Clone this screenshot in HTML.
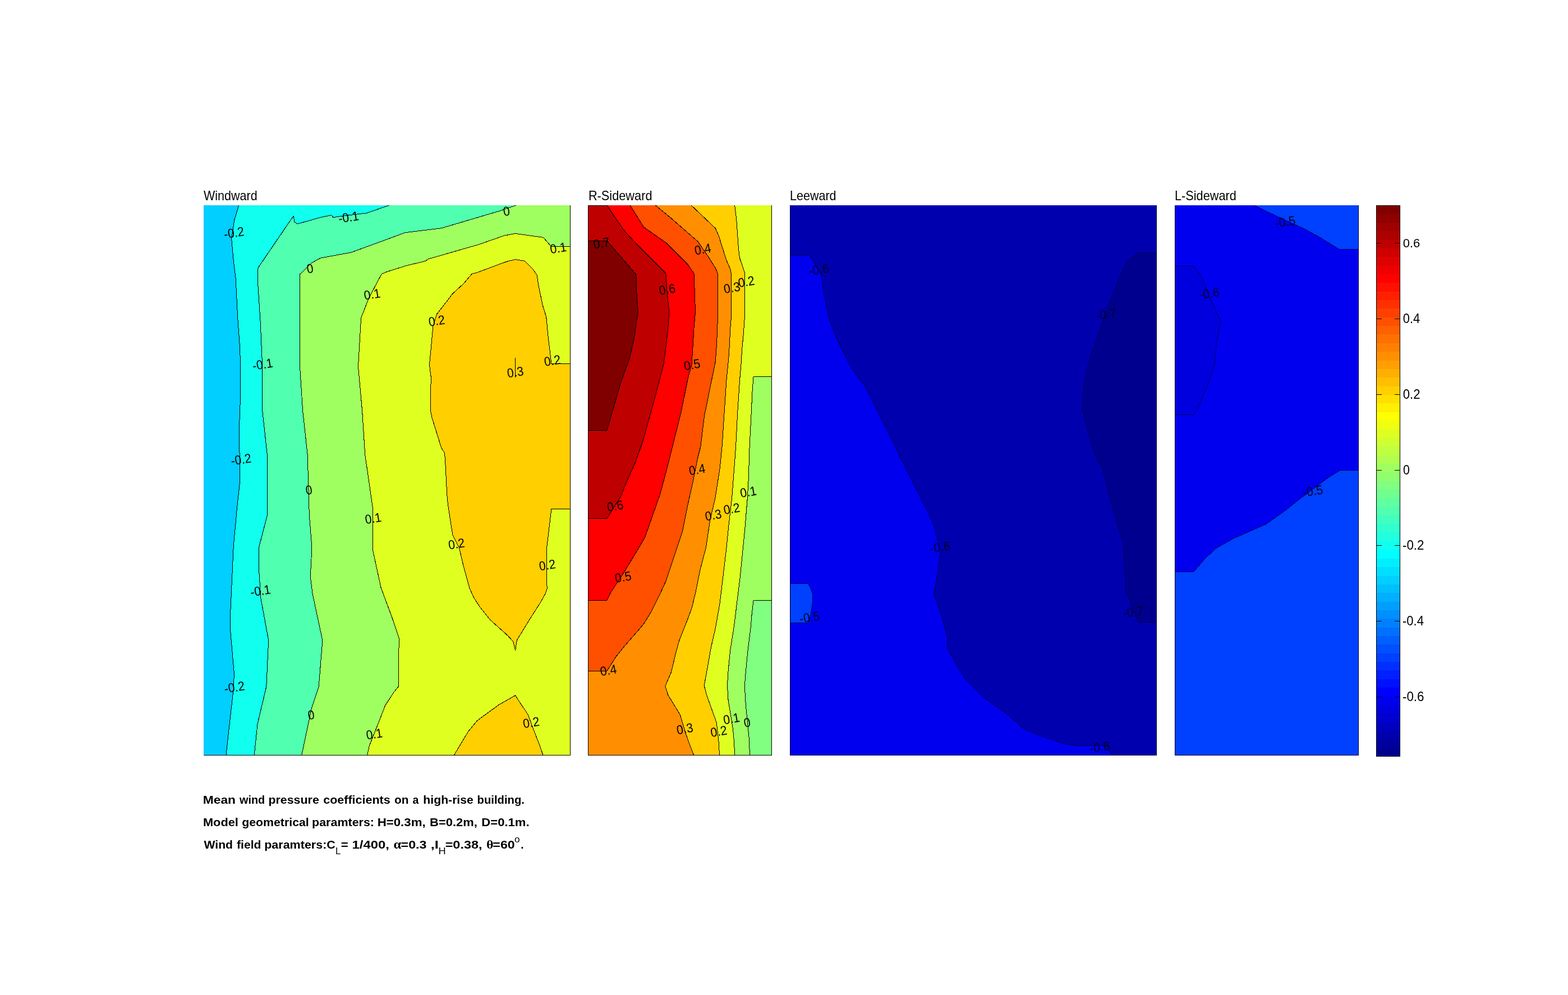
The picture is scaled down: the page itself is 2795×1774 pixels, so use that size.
<!DOCTYPE html>
<html><head><meta charset="utf-8"><title>Mean wind pressure coefficients</title>
<style>
html,body{margin:0;padding:0;background:#fff;}
body{width:2795px;height:1774px;overflow:hidden;}
svg{display:block;}
text{font-family:'Liberation Sans', sans-serif;fill:#000;}
.s{shape-rendering:crispEdges;}
.l{shape-rendering:crispEdges;fill:none;stroke-linejoin:round;}
</style></head><body>
<svg width="2795" height="1774" viewBox="0 0 2795 1774">
<rect width="2795" height="1774" fill="#fff"/>
<g class="s">
<rect x="363.0" y="366.0" width="654.0" height="981.0" fill="#00cfff"/>
<polygon points="425.7,366.0 417.8,392.3 412.7,425.7 416.3,465.0 420.2,496.4 423.7,567.0 427.2,614.2 428.8,653.6 428.4,712.4 426.1,771.3 427.6,830.2 427.6,858.9 422.5,906.0 416.3,972.8 410.8,1090.6 410.8,1126.0 417.4,1200.6 416.3,1228.0 410.0,1283.0 402.9,1347.0 1017.0,1347.0 1017.0,366.0" fill="#10ffef"/>
<polygon points="693.6,366.0 653.8,379.9 636.5,381.9 594.0,387.5 590.6,383.7 572.7,387.2 530.2,399.2 524.9,395.9 523.3,385.2 512.9,399.9 465.0,470.3 460.4,476.9 459.3,482.3 459.7,506.2 464.2,574.9 467.7,653.5 467.7,732.0 476.3,810.6 476.7,917.8 461.8,974.8 461.8,1020.0 465.0,1067.0 478.7,1141.7 474.8,1224.2 459.0,1291.0 453.2,1347.0 1017.0,1347.0 1017.0,366.0" fill="#50ffaf"/>
<polygon points="919.7,366.0 889.0,376.6 787.0,406.8 722.2,414.7 692.7,425.7 626.0,450.0 571.0,460.2 555.3,468.9 534.0,489.7 534.5,653.5 539.6,732.0 548.2,810.6 551.3,917.8 556.0,976.7 553.3,1027.8 557.2,1059.2 574.9,1141.7 568.2,1224.2 555.3,1263.4 537.6,1347.0 1017.0,1347.0 1017.0,366.0" fill="#9fff60"/>
<polygon points="1017.0,439.3 982.1,439.3 968.7,423.4 930.4,418.1 918.7,416.4 898.6,420.1 853.6,435.9 786.8,455.1 763.4,461.8 758.4,465.5 725.0,473.5 690.0,484.4 680.2,488.5 657.4,531.7 643.6,567.0 638.5,653.5 645.6,732.0 650.7,810.6 664.5,906.0 664.5,980.7 679.0,1047.4 698.5,1100.0 712.1,1140.0 710.8,1157.9 710.8,1223.4 701.9,1234.4 686.8,1257.5 669.2,1302.7 658.2,1330.0 654.6,1347.0 1017.0,1347.0" fill="#dfff20"/>
<polygon points="1017.0,648.4 982.9,648.4 977.1,600.0 973.8,565.3 967.1,543.6 959.6,506.9 957.1,490.2 948.7,478.5 935.4,465.2 918.7,462.7 907.0,465.2 897.0,468.5 870.3,478.5 850.2,486.0 841.1,488.2 826.9,505.2 806.8,523.6 790.2,545.3 778.5,560.3 771.8,582.0 768.4,620.0 765.4,650.1 768.4,673.4 767.6,698.5 767.6,733.5 770.1,745.2 786.8,798.6 792.6,807.8 794.3,833.7 796.8,883.4 798.5,900.1 806.8,953.5 818.5,976.9 826.0,1008.6 836.9,1048.6 844.4,1065.3 855.2,1082.0 873.6,1105.0 904.8,1133.0 914.6,1143.6 918.6,1159.4 921.3,1141.7 943.7,1105.0 963.7,1073.7 972.1,1058.6 975.4,1048.6 974.6,1040.3 974.6,976.9 982.9,907.6 1017.0,907.6" fill="#ffcf00"/>
<polygon points="809.1,1347.0 819.3,1329.7 834.7,1304.2 850.0,1285.5 863.6,1275.3 889.1,1256.6 918.6,1239.9 928.3,1254.9 941.0,1273.6 950.4,1299.1 962.3,1329.7 968.2,1347.0" fill="#ffcf00"/>
<rect x="1048.0" y="366.0" width="328.0" height="981.0" fill="#dfff20"/>
<polygon points="1376.0,671.7 1343.0,671.7 1341.0,698.2 1339.1,737.5 1336.1,796.4 1334.2,855.3 1332.2,889.3 1327.3,948.2 1323.4,987.5 1319.5,1026.7 1314.6,1066.0 1308.7,1115.1 1301.8,1158.5 1297.9,1197.8 1296.5,1222.4 1297.9,1246.9 1302.8,1276.4 1306.7,1301.9 1308.7,1325.5 1309.6,1347.0 1376.0,1347.0" fill="#9fff60"/>
<polygon points="1376.0,1070.9 1343.0,1070.9 1340.1,1095.5 1338.1,1119.3 1333.2,1158.5 1329.3,1197.8 1327.3,1222.4 1329.3,1256.7 1332.2,1286.2 1335.2,1315.6 1336.5,1347.0 1376.0,1347.0" fill="#80ff80"/>
<polygon points="1309.6,366.0 1312.6,389.3 1316.5,444.3 1318.5,460.0 1327.9,487.5 1327.9,522.8 1327.3,566.0 1325.3,595.5 1322.4,624.9 1321.4,645.0 1318.5,678.5 1314.6,737.5 1311.6,796.4 1308.7,835.6 1304.7,887.0 1298.8,938.4 1294.9,977.6 1289.0,1026.7 1283.1,1075.8 1275.3,1120.0 1267.4,1154.6 1261.5,1188.0 1255.2,1222.4 1259.6,1239.1 1269.4,1266.6 1277.2,1288.2 1281.2,1323.5 1282.5,1347.0 1048.0,1347.0 1048.0,366.0" fill="#ffcf00"/>
<polygon points="1232.1,366.0 1275.3,406.9 1281.2,420.7 1294.9,463.9 1301.8,479.6 1303.2,487.5 1303.8,522.8 1303.4,566.0 1301.8,585.6 1299.8,624.9 1298.8,639.3 1294.9,678.5 1291.0,737.5 1287.1,796.4 1283.1,835.6 1275.3,886.0 1265.5,928.5 1258.6,975.7 1247.8,1016.9 1239.9,1056.2 1233.5,1083.0 1226.2,1103.0 1210.5,1142.8 1204.6,1164.4 1196.7,1197.8 1185.9,1223.3 1190.8,1239.1 1212.4,1274.4 1222.3,1307.8 1230.1,1329.4 1237.0,1347.0 1048.0,1347.0 1048.0,366.0" fill="#ff8f00"/>
<polygon points="1168.3,366.0 1196.7,389.3 1243.9,430.5 1261.5,456.0 1276.3,479.6 1279.2,487.5 1279.6,522.8 1279.6,556.2 1278.8,585.6 1277.2,619.0 1275.3,645.2 1268.4,678.5 1255.6,741.4 1248.8,796.4 1243.9,816.0 1236.0,855.3 1226.2,899.1 1216.4,948.2 1206.5,977.6 1196.7,1007.1 1186.9,1036.5 1175.1,1062.1 1161.4,1089.6 1147.6,1112.3 1135.9,1126.0 1114.3,1150.7 1098.5,1170.3 1081.9,1196.4 1048.0,1196.4 1048.0,366.0" fill="#ff5000"/>
<polygon points="1123.1,366.0 1147.6,405.0 1186.9,432.5 1226.2,471.8 1237.0,487.5 1238.4,522.8 1239.5,556.2 1237.0,585.6 1235.0,619.0 1233.0,650.0 1226.2,674.6 1214.4,733.5 1196.7,804.2 1188.9,835.6 1177.1,879.5 1161.4,924.6 1149.6,958.0 1141.7,971.7 1130.0,991.4 1108.4,1026.7 1088.7,1056.2 1081.9,1070.3 1048.0,1070.3 1048.0,366.0" fill="#ff0000"/>
<polygon points="1081.9,366.0 1112.3,410.9 1137.8,438.4 1186.9,487.5 1189.3,522.8 1192.8,556.2 1190.8,585.6 1186.9,619.0 1183.0,649.1 1169.2,702.1 1147.6,780.7 1139.8,804.2 1131.9,825.8 1114.3,865.1 1106.4,885.3 1081.9,924.2 1048.0,924.2 1048.0,366.0" fill="#bf0000"/>
<polygon points="1048.0,429.1 1081.9,429.1 1133.9,489.4 1134.9,522.8 1137.4,556.2 1130.0,605.3 1122.1,639.3 1106.4,682.5 1081.9,767.5 1048.0,767.5" fill="#800000"/>
<rect x="1408.0" y="366.0" width="654.0" height="981.0" fill="#0000af"/>
<polygon points="1408.0,455.1 1443.0,455.1 1463.4,488.5 1469.3,527.8 1477.2,567.1 1490.9,602.4 1514.5,649.5 1526.3,669.2 1542.0,688.8 1561.6,728.1 1589.1,783.1 1628.4,863.0 1663.7,933.5 1676.3,984.6 1670.8,1023.9 1664.9,1059.2 1679.4,1102.4 1688.1,1133.8 1689.3,1157.4 1706.9,1188.8 1722.6,1212.4 1754.1,1243.8 1800.0,1277.2 1823.6,1298.8 1851.1,1310.6 1898.2,1326.3 1917.8,1329.0 1968.9,1329.0 1983.8,1347.0 1408.0,1347.0" fill="#0000ef"/>
<polygon points="1408.0,1040.2 1441.0,1040.2 1445.0,1049.2 1448.5,1058.7 1449.0,1066.5 1448.1,1075.2 1445.0,1096.4 1441.0,1110.1 1408.0,1110.1" fill="#0040ff"/>
<polygon points="2062.0,450.4 2029.7,450.4 2010.1,465.0 1996.4,492.4 1972.8,551.4 1957.1,598.5 1939.4,649.5 1931.6,692.7 1928.8,730.0 1935.5,751.6 1945.3,790.9 1955.1,819.6 1964.2,831.4 1980.7,896.2 2002.3,968.9 2005.0,1019.9 2007.4,1055.3 2019.9,1086.7 2029.7,1109.5 2062.0,1109.5" fill="#00008f"/>
<rect x="2094.0" y="366.0" width="328.0" height="981.0" fill="#0000ef"/>
<polygon points="2235.5,366.0 2256.7,376.5 2308.0,400.4 2325.7,408.3 2355.7,425.1 2387.5,444.9 2422.0,444.9 2422.0,366.0" fill="#0040ff"/>
<polygon points="2094.0,474.0 2127.1,474.0 2141.7,492.4 2155.4,527.8 2175.8,572.2 2169.2,606.3 2165.2,649.5 2153.5,684.9 2133.8,732.0 2127.9,739.1 2094.0,739.1" fill="#0000df"/>
<polygon points="2422.0,838.8 2387.9,838.8 2365.8,852.7 2318.2,888.5 2292.7,908.9 2256.9,934.4 2199.1,959.9 2168.5,976.9 2148.1,995.6 2127.9,1019.3 2094.0,1019.3 2094.0,1347.0 2422.0,1347.0" fill="#0040ff"/>
<rect x="2453.0" y="1333.1" width="43.0" height="15.9" fill="#00008f"/>
<rect x="2453.0" y="1317.8" width="43.0" height="15.9" fill="#00009f"/>
<rect x="2453.0" y="1302.4" width="43.0" height="15.9" fill="#0000af"/>
<rect x="2453.0" y="1287.1" width="43.0" height="15.9" fill="#0000bf"/>
<rect x="2453.0" y="1271.7" width="43.0" height="15.9" fill="#0000cf"/>
<rect x="2453.0" y="1256.3" width="43.0" height="15.9" fill="#0000df"/>
<rect x="2453.0" y="1241.0" width="43.0" height="15.9" fill="#0000ef"/>
<rect x="2453.0" y="1225.6" width="43.0" height="15.9" fill="#0000ff"/>
<rect x="2453.0" y="1210.3" width="43.0" height="15.9" fill="#0010ff"/>
<rect x="2453.0" y="1194.9" width="43.0" height="15.9" fill="#0020ff"/>
<rect x="2453.0" y="1179.5" width="43.0" height="15.9" fill="#0030ff"/>
<rect x="2453.0" y="1164.2" width="43.0" height="15.9" fill="#0040ff"/>
<rect x="2453.0" y="1148.8" width="43.0" height="15.9" fill="#0050ff"/>
<rect x="2453.0" y="1133.5" width="43.0" height="15.9" fill="#0060ff"/>
<rect x="2453.0" y="1118.1" width="43.0" height="15.9" fill="#0070ff"/>
<rect x="2453.0" y="1102.8" width="43.0" height="15.9" fill="#0080ff"/>
<rect x="2453.0" y="1087.4" width="43.0" height="15.9" fill="#008fff"/>
<rect x="2453.0" y="1072.0" width="43.0" height="15.9" fill="#009fff"/>
<rect x="2453.0" y="1056.7" width="43.0" height="15.9" fill="#00afff"/>
<rect x="2453.0" y="1041.3" width="43.0" height="15.9" fill="#00bfff"/>
<rect x="2453.0" y="1026.0" width="43.0" height="15.9" fill="#00cfff"/>
<rect x="2453.0" y="1010.6" width="43.0" height="15.9" fill="#00dfff"/>
<rect x="2453.0" y="995.2" width="43.0" height="15.9" fill="#00efff"/>
<rect x="2453.0" y="979.9" width="43.0" height="15.9" fill="#00ffff"/>
<rect x="2453.0" y="964.5" width="43.0" height="15.9" fill="#10ffef"/>
<rect x="2453.0" y="949.2" width="43.0" height="15.9" fill="#20ffdf"/>
<rect x="2453.0" y="933.8" width="43.0" height="15.9" fill="#30ffcf"/>
<rect x="2453.0" y="918.4" width="43.0" height="15.9" fill="#40ffbf"/>
<rect x="2453.0" y="903.1" width="43.0" height="15.9" fill="#50ffaf"/>
<rect x="2453.0" y="887.7" width="43.0" height="15.9" fill="#60ff9f"/>
<rect x="2453.0" y="872.4" width="43.0" height="15.9" fill="#70ff8f"/>
<rect x="2453.0" y="857.0" width="43.0" height="15.9" fill="#80ff80"/>
<rect x="2453.0" y="841.6" width="43.0" height="15.9" fill="#8fff70"/>
<rect x="2453.0" y="826.3" width="43.0" height="15.9" fill="#9fff60"/>
<rect x="2453.0" y="810.9" width="43.0" height="15.9" fill="#afff50"/>
<rect x="2453.0" y="795.6" width="43.0" height="15.9" fill="#bfff40"/>
<rect x="2453.0" y="780.2" width="43.0" height="15.9" fill="#cfff30"/>
<rect x="2453.0" y="764.8" width="43.0" height="15.9" fill="#dfff20"/>
<rect x="2453.0" y="749.5" width="43.0" height="15.9" fill="#efff10"/>
<rect x="2453.0" y="734.1" width="43.0" height="15.9" fill="#ffff00"/>
<rect x="2453.0" y="718.8" width="43.0" height="15.9" fill="#ffef00"/>
<rect x="2453.0" y="703.4" width="43.0" height="15.9" fill="#ffdf00"/>
<rect x="2453.0" y="688.0" width="43.0" height="15.9" fill="#ffcf00"/>
<rect x="2453.0" y="672.7" width="43.0" height="15.9" fill="#ffbf00"/>
<rect x="2453.0" y="657.3" width="43.0" height="15.9" fill="#ffaf00"/>
<rect x="2453.0" y="642.0" width="43.0" height="15.9" fill="#ff9f00"/>
<rect x="2453.0" y="626.6" width="43.0" height="15.9" fill="#ff8f00"/>
<rect x="2453.0" y="611.2" width="43.0" height="15.9" fill="#ff8000"/>
<rect x="2453.0" y="595.9" width="43.0" height="15.9" fill="#ff7000"/>
<rect x="2453.0" y="580.5" width="43.0" height="15.9" fill="#ff6000"/>
<rect x="2453.0" y="565.2" width="43.0" height="15.9" fill="#ff5000"/>
<rect x="2453.0" y="549.8" width="43.0" height="15.9" fill="#ff4000"/>
<rect x="2453.0" y="534.5" width="43.0" height="15.9" fill="#ff3000"/>
<rect x="2453.0" y="519.1" width="43.0" height="15.9" fill="#ff2000"/>
<rect x="2453.0" y="503.7" width="43.0" height="15.9" fill="#ff1000"/>
<rect x="2453.0" y="488.4" width="43.0" height="15.9" fill="#ff0000"/>
<rect x="2453.0" y="473.0" width="43.0" height="15.9" fill="#ef0000"/>
<rect x="2453.0" y="457.7" width="43.0" height="15.9" fill="#df0000"/>
<rect x="2453.0" y="442.3" width="43.0" height="15.9" fill="#cf0000"/>
<rect x="2453.0" y="426.9" width="43.0" height="15.9" fill="#bf0000"/>
<rect x="2453.0" y="411.6" width="43.0" height="15.9" fill="#af0000"/>
<rect x="2453.0" y="396.2" width="43.0" height="15.9" fill="#9f0000"/>
<rect x="2453.0" y="380.9" width="43.0" height="15.9" fill="#8f0000"/>
<rect x="2453.0" y="365.5" width="43.0" height="15.9" fill="#800000"/>
</g>
<g class="l">
<polyline points="425.7,366.0 417.8,392.3 412.7,425.7 416.3,465.0 420.2,496.4 423.7,567.0 427.2,614.2 428.8,653.6 428.4,712.4 426.1,771.3 427.6,830.2 427.6,858.9 422.5,906.0 416.3,972.8 410.8,1090.6 410.8,1126.0 417.4,1200.6 416.3,1228.0 410.0,1283.0 402.9,1347.0" stroke="#000" stroke-width="1.00"/>
<polyline points="693.6,366.0 653.8,379.9 636.5,381.9 594.0,387.5 590.6,383.7 572.7,387.2 530.2,399.2 524.9,395.9 523.3,385.2 512.9,399.9 465.0,470.3 460.4,476.9 459.3,482.3 459.7,506.2 464.2,574.9 467.7,653.5 467.7,732.0 476.3,810.6 476.7,917.8 461.8,974.8 461.8,1020.0 465.0,1067.0 478.7,1141.7 474.8,1224.2 459.0,1291.0 453.2,1347.0" stroke="#000" stroke-width="1.00"/>
<polyline points="919.7,366.0 889.0,376.6 787.0,406.8 722.2,414.7 692.7,425.7 626.0,450.0 571.0,460.2 555.3,468.9 534.0,489.7 534.5,653.5 539.6,732.0 548.2,810.6 551.3,917.8 556.0,976.7 553.3,1027.8 557.2,1059.2 574.9,1141.7 568.2,1224.2 555.3,1263.4 537.6,1347.0" stroke="#000" stroke-width="1.00"/>
<polyline points="1017.0,439.3 982.1,439.3 968.7,423.4 930.4,418.1 918.7,416.4 898.6,420.1 853.6,435.9 786.8,455.1 763.4,461.8 758.4,465.5 725.0,473.5 690.0,484.4 680.2,488.5 657.4,531.7 643.6,567.0 638.5,653.5 645.6,732.0 650.7,810.6 664.5,906.0 664.5,980.7 679.0,1047.4 698.5,1100.0 712.1,1140.0 710.8,1157.9 710.8,1223.4 701.9,1234.4 686.8,1257.5 669.2,1302.7 658.2,1330.0 654.6,1347.0" stroke="#000" stroke-width="1.00"/>
<polyline points="1017.0,648.4 982.9,648.4 977.1,600.0 973.8,565.3 967.1,543.6 959.6,506.9 957.1,490.2 948.7,478.5 935.4,465.2 918.7,462.7 907.0,465.2 897.0,468.5 870.3,478.5 850.2,486.0 841.1,488.2 826.9,505.2 806.8,523.6 790.2,545.3 778.5,560.3 771.8,582.0 768.4,620.0 765.4,650.1 768.4,673.4 767.6,698.5 767.6,733.5 770.1,745.2 786.8,798.6 792.6,807.8 794.3,833.7 796.8,883.4 798.5,900.1 806.8,953.5 818.5,976.9 826.0,1008.6 836.9,1048.6 844.4,1065.3 855.2,1082.0 873.6,1105.0 904.8,1133.0 914.6,1143.6 918.6,1159.4 921.3,1141.7 943.7,1105.0 963.7,1073.7 972.1,1058.6 975.4,1048.6 974.6,1040.3 974.6,976.9 982.9,907.6 1017.0,907.6" stroke="#000" stroke-width="1.00"/>
<polyline points="809.1,1347.0 819.3,1329.7 834.7,1304.2 850.0,1285.5 863.6,1275.3 889.1,1256.6 918.6,1239.9 928.3,1254.9 941.0,1273.6 950.4,1299.1 962.3,1329.7 968.2,1347.0" stroke="#000" stroke-width="1.00"/>
<polyline points="918.7,638.2 918.7,672.6" stroke="#000" stroke-width="1.00"/>
<polyline points="1048.0,429.1 1081.9,429.1 1133.9,489.4 1134.9,522.8 1137.4,556.2 1130.0,605.3 1122.1,639.3 1106.4,682.5 1081.9,767.5 1048.0,767.5" stroke="#000" stroke-width="1.00"/>
<polyline points="1048.0,366.5 1081.9,366.5 1081.9,366.0 1112.3,410.9 1137.8,438.4 1186.9,487.5 1189.3,522.8 1192.8,556.2 1190.8,585.6 1186.9,619.0 1183.0,649.1 1169.2,702.1 1147.6,780.7 1139.8,804.2 1131.9,825.8 1114.3,865.1 1106.4,885.3 1081.9,924.2 1048.0,924.2" stroke="#000" stroke-width="1.00"/>
<polyline points="1123.1,366.0 1147.6,405.0 1186.9,432.5 1226.2,471.8 1237.0,487.5 1238.4,522.8 1239.5,556.2 1237.0,585.6 1235.0,619.0 1233.0,650.0 1226.2,674.6 1214.4,733.5 1196.7,804.2 1188.9,835.6 1177.1,879.5 1161.4,924.6 1149.6,958.0 1141.7,971.7 1130.0,991.4 1108.4,1026.7 1088.7,1056.2 1081.9,1070.3 1048.0,1070.3" stroke="#000" stroke-width="1.00"/>
<polyline points="1168.3,366.0 1196.7,389.3 1243.9,430.5 1261.5,456.0 1276.3,479.6 1279.2,487.5 1279.6,522.8 1279.6,556.2 1278.8,585.6 1277.2,619.0 1275.3,645.2 1268.4,678.5 1255.6,741.4 1248.8,796.4 1243.9,816.0 1236.0,855.3 1226.2,899.1 1216.4,948.2 1206.5,977.6 1196.7,1007.1 1186.9,1036.5 1175.1,1062.1 1161.4,1089.6 1147.6,1112.3 1135.9,1126.0 1114.3,1150.7 1098.5,1170.3 1081.9,1196.4 1048.0,1196.4" stroke="#000" stroke-width="1.00"/>
<polyline points="1232.1,366.0 1275.3,406.9 1281.2,420.7 1294.9,463.9 1301.8,479.6 1303.2,487.5 1303.8,522.8 1303.4,566.0 1301.8,585.6 1299.8,624.9 1298.8,639.3 1294.9,678.5 1291.0,737.5 1287.1,796.4 1283.1,835.6 1275.3,886.0 1265.5,928.5 1258.6,975.7 1247.8,1016.9 1239.9,1056.2 1233.5,1083.0 1226.2,1103.0 1210.5,1142.8 1204.6,1164.4 1196.7,1197.8 1185.9,1223.3 1190.8,1239.1 1212.4,1274.4 1222.3,1307.8 1230.1,1329.4 1237.0,1347.0" stroke="#000" stroke-width="1.00"/>
<polyline points="1309.6,366.0 1312.6,389.3 1316.5,444.3 1318.5,460.0 1327.9,487.5 1327.9,522.8 1327.3,566.0 1325.3,595.5 1322.4,624.9 1321.4,645.0 1318.5,678.5 1314.6,737.5 1311.6,796.4 1308.7,835.6 1304.7,887.0 1298.8,938.4 1294.9,977.6 1289.0,1026.7 1283.1,1075.8 1275.3,1120.0 1267.4,1154.6 1261.5,1188.0 1255.2,1222.4 1259.6,1239.1 1269.4,1266.6 1277.2,1288.2 1281.2,1323.5 1282.5,1347.0" stroke="#000" stroke-width="1.00"/>
<polyline points="1376.0,671.7 1343.0,671.7 1341.0,698.2 1339.1,737.5 1336.1,796.4 1334.2,855.3 1332.2,889.3 1327.3,948.2 1323.4,987.5 1319.5,1026.7 1314.6,1066.0 1308.7,1115.1 1301.8,1158.5 1297.9,1197.8 1296.5,1222.4 1297.9,1246.9 1302.8,1276.4 1306.7,1301.9 1308.7,1325.5 1309.6,1347.0" stroke="#000" stroke-width="1.00"/>
<polyline points="1376.0,1070.9 1343.0,1070.9 1340.1,1095.5 1338.1,1119.3 1333.2,1158.5 1329.3,1197.8 1327.3,1222.4 1329.3,1256.7 1332.2,1286.2 1335.2,1315.6 1336.5,1347.0" stroke="#000" stroke-width="1.00"/>
<polyline points="1408.0,455.1 1443.0,455.1 1463.4,488.5 1469.3,527.8 1477.2,567.1 1490.9,602.4 1514.5,649.5 1526.3,669.2 1542.0,688.8 1561.6,728.1 1589.1,783.1 1628.4,863.0 1663.7,933.5 1676.3,984.6 1670.8,1023.9 1664.9,1059.2 1679.4,1102.4 1688.1,1133.8 1689.3,1157.4 1706.9,1188.8 1722.6,1212.4 1754.1,1243.8 1800.0,1277.2 1823.6,1298.8 1851.1,1310.6 1898.2,1326.3 1917.8,1329.0 1968.9,1329.0 1983.8,1347.0" stroke="#000058" stroke-width="1.00"/>
<polyline points="1408.0,1040.2 1441.0,1040.2 1445.0,1049.2 1448.5,1058.7 1449.0,1066.5 1448.1,1075.2 1445.0,1096.4 1441.0,1110.1 1408.0,1110.1" stroke="#000058" stroke-width="1.00"/>
<polyline points="2062.0,450.4 2029.7,450.4 2010.1,465.0 1996.4,492.4 1972.8,551.4 1957.1,598.5 1939.4,649.5 1931.6,692.7 1928.8,730.0 1935.5,751.6 1945.3,790.9 1955.1,819.6 1964.2,831.4 1980.7,896.2 2002.3,968.9 2005.0,1019.9 2007.4,1055.3 2019.9,1086.7 2029.7,1109.5 2062.0,1109.5" stroke="#000058" stroke-width="1.00"/>
<polyline points="2235.5,366.0 2256.7,376.5 2308.0,400.4 2325.7,408.3 2355.7,425.1 2387.5,444.9 2422.0,444.9" stroke="#000058" stroke-width="1.00"/>
<polyline points="2094.0,474.0 2127.1,474.0 2141.7,492.4 2155.4,527.8 2175.8,572.2 2169.2,606.3 2165.2,649.5 2153.5,684.9 2133.8,732.0 2127.9,739.1 2094.0,739.1" stroke="#000058" stroke-width="1.00"/>
<polyline points="2422.0,838.8 2387.9,838.8 2365.8,852.7 2318.2,888.5 2292.7,908.9 2256.9,934.4 2199.1,959.9 2168.5,976.9 2148.1,995.6 2127.9,1019.3 2094.0,1019.3" stroke="#000058" stroke-width="1.00"/>
<polyline points="363.0,1346.5 1017.0,1346.5" stroke="#000" stroke-width="1.00"/>
<polyline points="1016.5,366.0 1016.5,1347.0" stroke="#000" stroke-width="1.00"/>
<polyline points="1048.0,1346.5 1376.0,1346.5" stroke="#000" stroke-width="1.00"/>
<polyline points="1375.5,366.0 1375.5,1347.0" stroke="#000" stroke-width="1.00"/>
<polyline points="1048.5,366.0 1048.5,1347.0" stroke="#000" stroke-width="1.00"/>
<polyline points="1408.0,1346.5 2062.0,1346.5" stroke="#000030" stroke-width="1.00"/>
<polyline points="2061.5,366.0 2061.5,1347.0" stroke="#000028" stroke-width="1.00"/>
<polyline points="1408.5,366.0 1408.5,1347.0" stroke="#000028" stroke-width="1.00"/>
<polyline points="2094.0,1346.5 2422.0,1346.5" stroke="#000030" stroke-width="1.00"/>
<polyline points="2421.5,366.0 2421.5,1347.0" stroke="#000028" stroke-width="1.00"/>
<polyline points="2094.5,366.0 2094.5,1347.0" stroke="#000028" stroke-width="1.00"/>
<polyline points="2453.5,366.0 2453.5,1349.0" stroke="#000" stroke-width="1.00"/>
<polyline points="2495.5,366.0 2495.5,1349.0" stroke="#000" stroke-width="1.00"/>
<polyline points="2453.0,366.5 2496.0,366.5" stroke="#000" stroke-width="1.00"/>
<polyline points="2453.0,1348.5 2496.0,1348.5" stroke="#000" stroke-width="1.00"/>
<polyline points="2453.0,433.5 2463.0,433.5" stroke="#000" stroke-width="1.00"/>
<polyline points="2486.0,433.5 2496.0,433.5" stroke="#000" stroke-width="1.00"/>
<polyline points="2453.0,568.5 2463.0,568.5" stroke="#000" stroke-width="1.00"/>
<polyline points="2486.0,568.5 2496.0,568.5" stroke="#000" stroke-width="1.00"/>
<polyline points="2453.0,703.5 2463.0,703.5" stroke="#000" stroke-width="1.00"/>
<polyline points="2486.0,703.5 2496.0,703.5" stroke="#000" stroke-width="1.00"/>
<polyline points="2453.0,838.5 2463.0,838.5" stroke="#000" stroke-width="1.00"/>
<polyline points="2486.0,838.5 2496.0,838.5" stroke="#000" stroke-width="1.00"/>
<polyline points="2453.0,972.5 2463.0,972.5" stroke="#000" stroke-width="1.00"/>
<polyline points="2486.0,972.5 2496.0,972.5" stroke="#000" stroke-width="1.00"/>
<polyline points="2453.0,1107.5 2463.0,1107.5" stroke="#000" stroke-width="1.00"/>
<polyline points="2486.0,1107.5 2496.0,1107.5" stroke="#000" stroke-width="1.00"/>
<polyline points="2453.0,1242.5 2463.0,1242.5" stroke="#000" stroke-width="1.00"/>
<polyline points="2486.0,1242.5 2496.0,1242.5" stroke="#000" stroke-width="1.00"/>
</g>
<g>
<text text-anchor="middle" font-size="23.00" transform="translate(417.0 415.0) rotate(-9.0) scale(0.920 1)" y="7.9">-0.2</text>
<text text-anchor="middle" font-size="23.00" transform="translate(621.3 387.2) rotate(-9.0) scale(0.920 1)" y="7.9">-0.1</text>
<text text-anchor="middle" font-size="23.00" transform="translate(902.9 376.6) rotate(-9.0) scale(0.920 1)" y="7.9">0</text>
<text text-anchor="middle" font-size="23.00" transform="translate(995.1 442.2) rotate(-9.0) scale(0.920 1)" y="7.9">0.1</text>
<text text-anchor="middle" font-size="23.00" transform="translate(552.5 478.7) rotate(-9.0) scale(0.920 1)" y="7.9">0</text>
<text text-anchor="middle" font-size="23.00" transform="translate(663.3 524.6) rotate(-9.0) scale(0.920 1)" y="7.9">0.1</text>
<text text-anchor="middle" font-size="23.00" transform="translate(778.4 571.8) rotate(-9.0) scale(0.920 1)" y="7.9">0.2</text>
<text text-anchor="middle" font-size="23.00" transform="translate(468.1 649.5) rotate(-9.0) scale(0.920 1)" y="7.9">-0.1</text>
<text text-anchor="middle" font-size="23.00" transform="translate(984.5 642.9) rotate(-9.0) scale(0.920 1)" y="7.9">0.2</text>
<text text-anchor="middle" font-size="23.00" transform="translate(918.6 663.3) rotate(-9.0) scale(0.920 1)" y="7.9">0.3</text>
<text text-anchor="middle" font-size="23.00" transform="translate(429.6 819.2) rotate(-9.0) scale(0.920 1)" y="7.9">-0.2</text>
<text text-anchor="middle" font-size="23.00" transform="translate(550.6 873.4) rotate(-9.0) scale(0.920 1)" y="7.9">0</text>
<text text-anchor="middle" font-size="23.00" transform="translate(665.2 924.1) rotate(-9.0) scale(0.920 1)" y="7.9">0.1</text>
<text text-anchor="middle" font-size="23.00" transform="translate(813.7 969.7) rotate(-9.0) scale(0.920 1)" y="7.9">0.2</text>
<text text-anchor="middle" font-size="23.00" transform="translate(975.5 1007.4) rotate(-9.0) scale(0.920 1)" y="7.9">0.2</text>
<text text-anchor="middle" font-size="23.00" transform="translate(464.2 1053.3) rotate(-9.0) scale(0.920 1)" y="7.9">-0.1</text>
<text text-anchor="middle" font-size="23.00" transform="translate(417.8 1225.3) rotate(-9.0) scale(0.920 1)" y="7.9">-0.2</text>
<text text-anchor="middle" font-size="23.00" transform="translate(554.5 1274.4) rotate(-9.0) scale(0.920 1)" y="7.9">0</text>
<text text-anchor="middle" font-size="23.00" transform="translate(667.2 1308.6) rotate(-9.0) scale(0.920 1)" y="7.9">0.1</text>
<text text-anchor="middle" font-size="23.00" transform="translate(946.8 1288.2) rotate(-9.0) scale(0.920 1)" y="7.9">0.2</text>
<text text-anchor="middle" font-size="23.00" transform="translate(1072.0 433.5) rotate(-10.0) scale(0.920 1)" y="7.9">0.7</text>
<text text-anchor="middle" font-size="23.00" transform="translate(1252.7 444.3) rotate(-10.0) scale(0.920 1)" y="7.9">0.4</text>
<text text-anchor="middle" font-size="23.00" transform="translate(1189.3 515.9) rotate(-10.0) scale(0.920 1)" y="7.9">0.6</text>
<text text-anchor="middle" font-size="23.00" transform="translate(1304.7 513.0) rotate(-10.0) scale(0.920 1)" y="7.9">0.3</text>
<text text-anchor="middle" font-size="23.00" transform="translate(1330.3 502.2) rotate(-10.0) scale(0.920 1)" y="7.9">0.2</text>
<text text-anchor="middle" font-size="23.00" transform="translate(1233.6 650.1) rotate(-10.0) scale(0.920 1)" y="7.9">0.5</text>
<text text-anchor="middle" font-size="23.00" transform="translate(1242.5 837.2) rotate(-10.0) scale(0.920 1)" y="7.9">0.4</text>
<text text-anchor="middle" font-size="23.00" transform="translate(1333.8 876.9) rotate(-10.0) scale(0.920 1)" y="7.9">0.1</text>
<text text-anchor="middle" font-size="23.00" transform="translate(1096.6 902.0) rotate(-10.0) scale(0.920 1)" y="7.9">0.6</text>
<text text-anchor="middle" font-size="23.00" transform="translate(1271.4 918.3) rotate(-10.0) scale(0.920 1)" y="7.9">0.3</text>
<text text-anchor="middle" font-size="23.00" transform="translate(1304.3 907.0) rotate(-10.0) scale(0.920 1)" y="7.9">0.2</text>
<text text-anchor="middle" font-size="23.00" transform="translate(1110.7 1028.7) rotate(-10.0) scale(0.920 1)" y="7.9">0.5</text>
<text text-anchor="middle" font-size="23.00" transform="translate(1084.4 1194.9) rotate(-10.0) scale(0.920 1)" y="7.9">0.4</text>
<text text-anchor="middle" font-size="23.00" transform="translate(1220.7 1299.3) rotate(-10.0) scale(0.920 1)" y="7.9">0.3</text>
<text text-anchor="middle" font-size="23.00" transform="translate(1281.2 1303.9) rotate(-10.0) scale(0.920 1)" y="7.9">0.2</text>
<text text-anchor="middle" font-size="23.00" transform="translate(1303.8 1281.3) rotate(-10.0) scale(0.920 1)" y="7.9">0.1</text>
<text text-anchor="middle" font-size="23.00" transform="translate(1331.6 1288.2) rotate(-10.0) scale(0.920 1)" y="7.9">0</text>
<text text-anchor="middle" font-size="23.00" transform="translate(1459.5 480.7) rotate(-9.0) scale(0.920 1)" y="7.9" style="fill:#000028">-0.6</text>
<text text-anchor="middle" font-size="23.00" transform="translate(1675.5 975.6) rotate(-9.0) scale(0.920 1)" y="7.9" style="fill:#000028">-0.6</text>
<text text-anchor="middle" font-size="23.00" transform="translate(1960.2 1332.2) rotate(-9.0) scale(0.920 1)" y="7.9" style="fill:#000028">-0.6</text>
<text text-anchor="middle" font-size="23.00" transform="translate(1443.0 1100.4) rotate(-9.0) scale(0.920 1)" y="7.9" style="fill:#000028">-0.5</text>
<text text-anchor="middle" font-size="23.00" transform="translate(1971.6 560.0) rotate(-9.0) scale(0.920 1)" y="7.9" style="fill:#000028">-0.7</text>
<text text-anchor="middle" font-size="23.00" transform="translate(2019.9 1090.6) rotate(-9.0) scale(0.920 1)" y="7.9" style="fill:#000028">-0.7</text>
<text text-anchor="middle" font-size="23.00" transform="translate(2290.9 395.4) rotate(-9.0) scale(0.920 1)" y="7.9" style="fill:#000028">-0.5</text>
<text text-anchor="middle" font-size="23.00" transform="translate(2155.4 522.7) rotate(-9.0) scale(0.920 1)" y="7.9" style="fill:#000028">-0.6</text>
<text text-anchor="middle" font-size="23.00" transform="translate(2340.0 875.4) rotate(-9.0) scale(0.920 1)" y="7.9" style="fill:#000028">-0.5</text>
<text font-size="23.00" transform="translate(363.07 356.9) scale(0.9343 1)">Windward</text>
<text font-size="23.00" transform="translate(1048.91 356.9) scale(0.9456 1)">R-Sideward</text>
<text font-size="23.00" transform="translate(1408.03 356.9) scale(0.9357 1)">Leeward</text>
<text font-size="23.00" transform="translate(2094.01 356.9) scale(0.9437 1)">L-Sideward</text>
<text font-size="23.00" transform="translate(2500.74 441.1) scale(0.9567 1)">0.6</text>
<text font-size="23.00" transform="translate(2500.75 576.1) scale(0.9488 1)">0.4</text>
<text font-size="23.00" transform="translate(2500.74 711.1) scale(0.9647 1)">0.2</text>
<text font-size="23.00" transform="translate(2501.07 846.1) scale(0.9273 1)">0</text>
<text font-size="23.00" transform="translate(2499.93 980.1) scale(0.9733 1)">-0.2</text>
<text font-size="23.00" transform="translate(2499.94 1115.1) scale(0.9605 1)">-0.4</text>
<text font-size="23.00" transform="translate(2499.93 1250.1) scale(0.9733 1)">-0.6</text>
<text id="cap1"><tspan x="361.87" y="1433.0" font-size="20.90" font-weight="bold" textLength="58.17" lengthAdjust="spacingAndGlyphs">Mean</tspan> <tspan x="427.00" y="1433.0" font-size="20.90" font-weight="bold" textLength="45.16" lengthAdjust="spacingAndGlyphs">wind</tspan> <tspan x="478.47" y="1433.0" font-size="20.90" font-weight="bold" textLength="90.32" lengthAdjust="spacingAndGlyphs">pressure</tspan> <tspan x="576.23" y="1433.0" font-size="20.90" font-weight="bold" textLength="119.44" lengthAdjust="spacingAndGlyphs">coefficients</tspan> <tspan x="703.05" y="1433.0" font-size="20.90" font-weight="bold" textLength="25.42" lengthAdjust="spacingAndGlyphs">on</tspan> <tspan x="735.53" y="1433.0" font-size="20.90" font-weight="bold" textLength="10.85" lengthAdjust="spacingAndGlyphs">a</tspan> <tspan x="754.38" y="1433.0" font-size="20.90" font-weight="bold" textLength="89.45" lengthAdjust="spacingAndGlyphs">high-rise</tspan> <tspan x="850.55" y="1433.0" font-size="20.90" font-weight="bold" textLength="84.34" lengthAdjust="spacingAndGlyphs">building.</tspan></text>
<text id="cap2"><tspan x="361.93" y="1472.9" font-size="20.90" font-weight="bold" textLength="62.98" lengthAdjust="spacingAndGlyphs">Model</tspan> <tspan x="431.24" y="1472.9" font-size="20.90" font-weight="bold" textLength="119.51" lengthAdjust="spacingAndGlyphs">geometrical</tspan> <tspan x="556.06" y="1472.9" font-size="20.90" font-weight="bold" textLength="110.98" lengthAdjust="spacingAndGlyphs">paramters:</tspan> <tspan x="672.70" y="1472.9" font-size="20.90" font-weight="bold" textLength="85.96" lengthAdjust="spacingAndGlyphs">H=0.3m,</tspan> <tspan x="766.13" y="1472.9" font-size="20.90" font-weight="bold" textLength="84.72" lengthAdjust="spacingAndGlyphs">B=0.2m,</tspan> <tspan x="858.31" y="1472.9" font-size="20.90" font-weight="bold" textLength="85.34" lengthAdjust="spacingAndGlyphs">D=0.1m.</tspan></text>
<text id="cap3"><tspan x="363.50" y="1512.7" font-size="20.90" font-weight="bold" textLength="51.49" lengthAdjust="spacingAndGlyphs">Wind</tspan> <tspan x="422.05" y="1512.7" font-size="20.90" font-weight="bold" textLength="43.42" lengthAdjust="spacingAndGlyphs">field</tspan> <tspan x="471.16" y="1512.7" font-size="20.90" font-weight="bold" textLength="126.74" lengthAdjust="spacingAndGlyphs">paramters:C</tspan><tspan x="597.92" y="1522.7" font-size="16.40" font-weight="normal" textLength="9.31" lengthAdjust="spacingAndGlyphs">L</tspan><tspan x="607.70" y="1512.7" font-size="20.90" font-weight="bold" textLength="13.02" lengthAdjust="spacingAndGlyphs">=</tspan> <tspan x="627.57" y="1512.7" font-size="20.90" font-weight="bold" textLength="66.36" lengthAdjust="spacingAndGlyphs">1/400,</tspan> <tspan x="701.50" y="1512.7" font-size="23.00" font-weight="bold" style="font-family:'Liberation Serif', 'DejaVu Serif', serif" textLength="13.66" lengthAdjust="spacingAndGlyphs">α</tspan><tspan x="714.57" y="1512.7" font-size="20.90" font-weight="bold" textLength="45.87" lengthAdjust="spacingAndGlyphs">=0.3</tspan> <tspan x="767.78" y="1512.7" font-size="20.90" font-weight="bold" textLength="14.06" lengthAdjust="spacingAndGlyphs">,I</tspan><tspan x="781.61" y="1522.7" font-size="16.40" font-weight="normal" textLength="13.19" lengthAdjust="spacingAndGlyphs">H</tspan><tspan x="793.66" y="1512.7" font-size="20.90" font-weight="bold" textLength="65.94" lengthAdjust="spacingAndGlyphs">=0.38,</tspan> <tspan x="867.12" y="1512.7" font-size="20.50" font-weight="bold" style="font-family:'Liberation Serif', 'DejaVu Serif', serif" textLength="12.61" lengthAdjust="spacingAndGlyphs">θ</tspan><tspan x="878.37" y="1512.7" font-size="20.90" font-weight="bold" textLength="39.27" lengthAdjust="spacingAndGlyphs">=60</tspan><tspan x="917.01" y="1502.4" font-size="16.40" font-weight="normal" textLength="9.65" lengthAdjust="spacingAndGlyphs">o</tspan><tspan x="928.34" y="1512.7" font-size="20.90" font-weight="bold" textLength="5.28" lengthAdjust="spacingAndGlyphs">.</tspan></text>
</g>
</svg>
</body></html>
